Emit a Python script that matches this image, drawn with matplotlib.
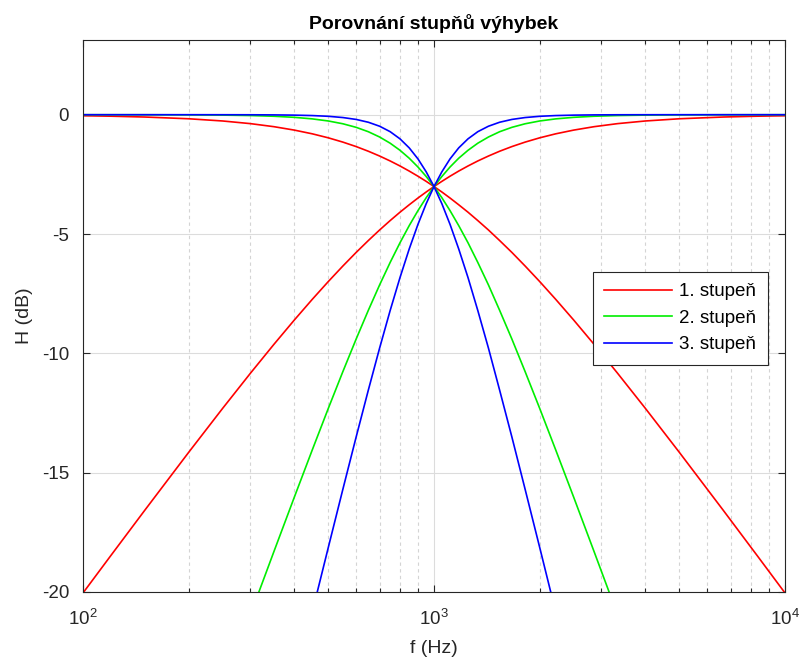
import numpy as np
import matplotlib
matplotlib.use('Agg')
import matplotlib.pyplot as plt
from matplotlib.ticker import LogLocator, NullFormatter

plt.rcParams['font.family'] = ['Liberation Sans', 'DejaVu Sans']
plt.rcParams['axes.unicode_minus'] = False

# frequency points (Hz)
freq = [100, 120, 150, 200, 250, 300, 350, 400, 450, 500, 550, 600, 650, 700,
        750, 800, 850, 900, 950, 1000, 1053, 1111, 1176, 1250, 1333, 1429,
        1538, 1667, 1818, 2000, 2222, 2500, 2857, 3333, 4000, 5000, 6667,
        8333, 10000]

# 1st order
lp1 = [-0.043, -0.062, -0.097, -0.170, -0.263, -0.374, -0.502, -0.645, -0.801,
       -0.969, -1.148, -1.335, -1.531, -1.732, -1.938, -2.148, -2.362, -2.577,
       -2.793, -3.010, -3.239, -3.492, -3.774, -4.086, -4.437, -4.830, -5.273,
       -5.772, -6.341, -6.990, -7.737, -8.604, -9.621, -10.832, -12.304,
       -14.150, -16.575, -18.478, -20.043]
hp1 = [-20.043, -18.478, -16.575, -14.150, -12.304, -10.832, -9.621, -8.604,
       -7.737, -6.990, -6.341, -5.772, -5.273, -4.830, -4.437, -4.086, -3.774,
       -3.492, -3.239, -3.010, -2.793, -2.577, -2.362, -2.148, -1.938, -1.732,
       -1.531, -1.335, -1.148, -0.969, -0.801, -0.645, -0.502, -0.374, -0.263,
       -0.170, -0.097, -0.062, -0.043]

# 2nd order
lp2 = [0.0, -0.001, -0.002, -0.007, -0.017, -0.035, -0.065, -0.110, -0.175,
       -0.263, -0.380, -0.529, -0.713, -0.935, -1.194, -1.491, -1.824, -2.191,
       -2.588, -3.010, -3.479, -4.021, -4.647, -5.367, -6.192, -7.131, -8.197,
       -9.403, -10.766, -12.304, -14.047, -16.028, -18.302, -20.950, -24.099,
       -27.966, -32.958, -36.834, -40.000]
hp2 = [-40.000, -36.834, -32.958, -27.966, -24.099, -20.950, -18.302, -16.028,
       -14.047, -12.304, -10.766, -9.403, -8.197, -7.131, -6.192, -5.367,
       -4.647, -4.021, -3.479, -3.010, -2.588, -2.191, -1.824, -1.491, -1.194,
       -0.935, -0.713, -0.529, -0.380, -0.263, -0.175, -0.110, -0.065, -0.035,
       -0.017, -0.007, -0.002, -0.001, 0.0]

# 3rd order
lp3 = [0.0, 0.0, 0.0, 0.0, -0.001, -0.003, -0.008, -0.018, -0.036, -0.067,
       -0.119, -0.198, -0.316, -0.483, -0.711, -1.011, -1.390, -1.851, -2.393,
       -3.010, -3.730, -4.597, -5.625, -6.826, -8.207, -9.777, -11.541,
       -13.509, -15.697, -18.129, -20.843, -23.894, -27.364, -31.376, -36.125,
       -41.938, -49.435, -55.249, -60.000]
hp3 = [-60.000, -55.249, -49.435, -41.938, -36.125, -31.376, -27.364, -23.894,
       -20.843, -18.129, -15.697, -13.509, -11.541, -9.777, -8.207, -6.826,
       -5.625, -4.597, -3.730, -3.010, -2.393, -1.851, -1.390, -1.011, -0.711,
       -0.483, -0.316, -0.198, -0.119, -0.067, -0.036, -0.018, -0.008, -0.003,
       -0.001, 0.0, 0.0, 0.0, 0.0]

labels = ['1. stupeň', '2. stupeň', '3. stupeň']
colors = ['#ff0000', '#00ee00', '#0000ff']

fig = plt.figure(figsize=(8.04, 6.68), dpi=100)
ax = fig.add_axes([0.1032, 0.1138, 0.8732, 0.8263])

for lp, hp, c, lab in zip([lp1, lp2, lp3], [hp1, hp2, hp3], colors, labels):
    ax.semilogx(freq, lp, color=c, lw=1.2, label=lab)
    ax.semilogx(freq, hp, color=c, lw=1.2)

ax.set_xlim(100, 10000)
ax.set_ylim(-20, 3.13)
ax.set_yticks([-20, -15, -10, -5, 0])
ax.xaxis.set_minor_locator(LogLocator(base=10, subs=np.arange(2, 10)))
ax.xaxis.set_minor_formatter(NullFormatter())

ax.grid(True, which='major', color='#dcdcdc', lw=0.8, ls='-')
ax.grid(True, which='minor', axis='x', color='#d4d4d4', lw=0.8, ls=(0, (3, 3)))
ax.set_axisbelow(True)

ax.tick_params(which='both', direction='in', top=True, right=True,
               colors='#262626', labelsize=13.5, width=0.8)
ax.tick_params(which='major', length=5)
ax.tick_params(which='minor', length=3)
ax.tick_params(axis='x', which='major', pad=12)
ax.tick_params(axis='y', which='major', pad=10)
for s in ax.spines.values():
    s.set_color('#262626')
    s.set_linewidth(0.8)

ax.set_xlabel('f (Hz)', fontsize=14, color='#262626', labelpad=8)
ax.set_ylabel('H (dB)', fontsize=14, color='#262626', labelpad=6)
ax.set_title('Porovnání stupňů výhybek', fontsize=14, fontweight='bold',
             color='black', pad=8)

leg = ax.legend(loc='upper left', bbox_to_anchor=(0.7265, 0.5797),
                fontsize=13.5, fancybox=False, framealpha=1, edgecolor='#262626',
                handlelength=3.6, handletextpad=0.4, borderpad=0.6,
                labelspacing=0.5, borderaxespad=0)
leg.get_frame().set_linewidth(0.8)

fig.savefig('out.png', dpi=100)
